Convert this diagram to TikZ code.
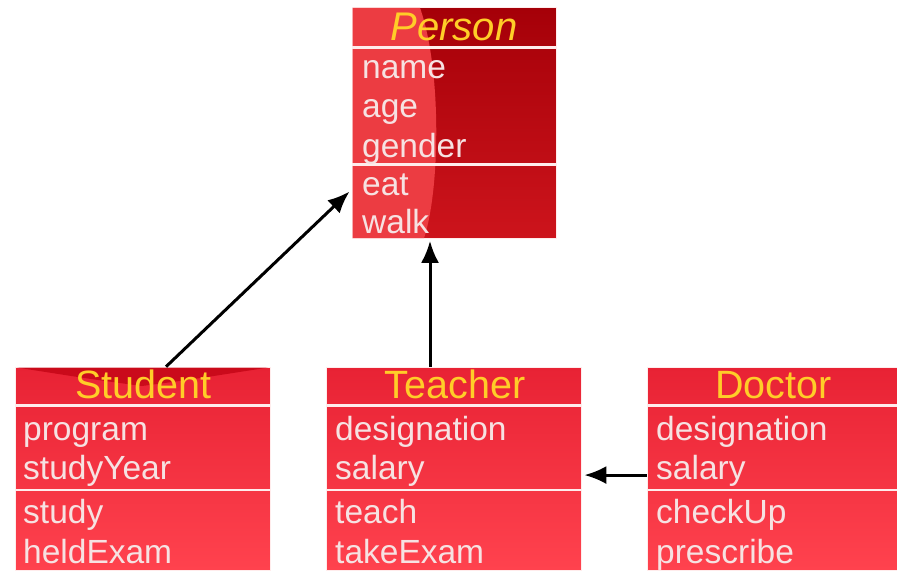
\documentclass[tikz,border=0pt]{standalone}
\usepackage{fontspec}
\setmainfont{Liberation Sans}
\usetikzlibrary{arrows.meta}
\definecolor{persontop}{RGB}{165,0,8}
\definecolor{personbottom}{RGB}{205,20,28}
\definecolor{personlight}{RGB}{236,60,66}
\definecolor{classtop}{RGB}{232,34,52}
\definecolor{classbottom}{RGB}{255,66,78}
\definecolor{studentshade}{RGB}{190,0,16}
\definecolor{titlegold}{RGB}{255,205,40}
\definecolor{membertext}{RGB}{246,226,226}
\definecolor{sepcolor}{RGB}{255,236,236}

\begin{document}
\begin{tikzpicture}[
	x=1pt, y=-1pt,
	classbox/.style={draw=sepcolor, line width=0.6pt, inner sep=0pt},
	lowerbox/.style={classbox, top color=classtop, bottom color=classbottom, minimum width=255pt, minimum height=203pt},
	sepline/.style={draw=sepcolor, line width=2.6pt},
	titletext/.style={anchor=base, inner sep=0pt, text=titlegold, font=\fontsize{39.5}{44}\selectfont},
	membertext/.style={anchor=base west, inner sep=0pt, text=membertext, font=\fontsize{33.5}{40}\selectfont},
	inherit/.style={-{Latex[length=22pt,width=18pt]}, line width=3pt}
	]

	\useasboundingbox (0,0) rectangle (897,574);

	% Person
	\node (person) at (454,123) [classbox, top color=persontop, bottom color=personbottom, minimum width=204pt, minimum height=231pt] {};
	\fill [personlight] (352.5,7.8) -- (420,7.8) .. controls (442,70) and (440,190) .. (424,238.2) -- (352.5,238.2) -- cycle;
	\draw [sepline] (352,47.5) -- (556,47.5);
	\draw [sepline] (352,164.5) -- (556,164.5);
	\node (person-title) at (454,40) [titletext, font=\fontsize{40}{44}\selectfont\itshape] {Person};
	\node (person-name) at (362,78) [membertext] {name};
	\node (person-age) at (362,117) [membertext] {age};
	\node (person-gender) at (362,157) [membertext] {gender};
	\node (person-eat) at (362,195) [membertext] {eat};
	\node (person-walk) at (362,233) [membertext] {walk};

	% Student
	\node (student) at (142.5,468.5) [lowerbox] {};
	\fill [studentshade, opacity=0.7] (17,367.5) .. controls (90,379) .. (142,386) .. controls (195,379) .. (268,367.5) -- cycle;
	\draw [sepline] (15,405.5) -- (270,405.5);
	\draw [sepline] (15,490) -- (270,490);
	\node (student-title) at (143.5,398) [titletext] {Student};
	\node (student-program) at (23,440) [membertext] {program};
	\node (student-year) at (23,479) [membertext] {studyYear};
	\node (student-study) at (23,523) [membertext] {study};
	\node (student-exam) at (23,563) [membertext] {heldExam};

	% Teacher
	\node (teacher) at (453.5,468.5) [lowerbox] {};
	\draw [sepline] (326,405.5) -- (581,405.5);
	\draw [sepline] (326,490) -- (581,490);
	\node (teacher-title) at (455,398) [titletext] {Teacher};
	\node (teacher-designation) at (335,440) [membertext] {designation};
	\node (teacher-salary) at (335,479) [membertext] {salary};
	\node (teacher-teach) at (335,523) [membertext] {teach};
	\node (teacher-exam) at (335,563) [membertext] {takeExam};

	% Doctor
	\node (doctor) at (772,468.5) [lowerbox, minimum width=250pt] {};
	\draw [sepline] (647,405.5) -- (897,405.5);
	\draw [sepline] (647,490) -- (897,490);
	\node (doctor-title) at (773.5,398) [titletext] {Doctor};
	\node (doctor-designation) at (656,440) [membertext] {designation};
	\node (doctor-salary) at (656,479) [membertext] {salary};
	\node (doctor-checkup) at (656,523) [membertext] {checkUp};
	\node (doctor-prescribe) at (656,563) [membertext] {prescribe};

	% arrows
	\draw [inherit, shorten >=3pt] (student.77) -- (person.213);
	\draw [inherit, shorten >=2pt] (teacher.103) -- (teacher.103 |- person.south);
	\draw [inherit, shorten >=3pt] (doctor.183) -- (teacher.east |- doctor.183);
\end{tikzpicture}
\end{document}
